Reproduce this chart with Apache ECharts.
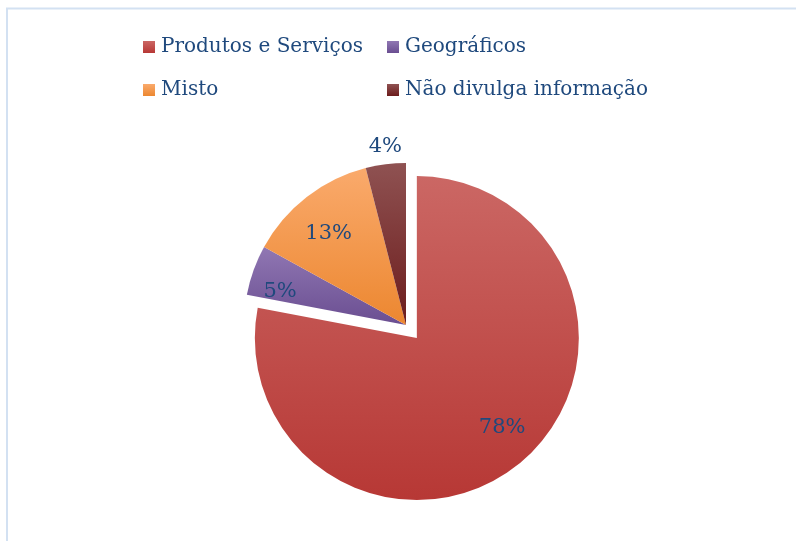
<!DOCTYPE html>
<html>
<head>
<meta charset="utf-8">
<script src="https://cdn.jsdelivr.net/npm/echarts@6/dist/echarts.min.js"></script>
<style>
html,body{margin:0;padding:0;background:#fff;}
#chart{width:796px;height:541px;}
</style>
</head>
<body>
<div id="chart"></div>
<script>
const categories = ['Produtos e Serviços', 'Geográficos', 'Misto', 'Não divulga informação'];
const values = [78, 5, 13, 4];
const labelTexts = ['78%', '5%', '13%', '4%'];
const topColors = ['#CB6764', '#9077B3', '#FAAA6C', '#8F5252'];
const bottomColors = ['#B73835', '#6A4E91', '#EC8730', '#6C1C1C'];

// label placement style (fraction of radius + small nudges)
const labelRadiusFrac = [0.74, 0.86, 0.75, 1.1];
const labelNudge = [[7, -5], [8, 15], [-1, 7], [2, 1]];

const chart = echarts.init(document.getElementById('chart'), null, {renderer: 'canvas'});
const CX = 406, CY = 325, R = 162, OFFSET = 17;
const FONT = 'DejaVu Serif';
const LABEL_COLOR = '#1F497D';

function grad(i) {
  return new echarts.graphic.LinearGradient(0, 0, 0, 1, [
    {offset: 0, color: topColors[i]},
    {offset: 1, color: bottomColors[i]}
  ]);
}

const mainData = categories.map((c, i) => ({
  name: c, value: values[i], selected: i === 0,
  itemStyle: {color: grad(i)}
}));

const series = [{
  type: 'pie',
  center: [CX, CY],
  radius: [0, R],
  startAngle: 90,
  clockwise: true,
  selectedMode: 'single',
  selectedOffset: OFFSET,
  avoidLabelOverlap: false,
  label: {show: false},
  labelLine: {show: false},
  emphasis: {disabled: true},
  animation: false,
  data: mainData
}];

categories.forEach((c, k) => {
  const rr = labelRadiusFrac[k] * R;
  series.push({
    type: 'pie',
    center: [CX, CY],
    radius: [rr - 1, rr + 1],
    startAngle: 90,
    clockwise: true,
    selectedMode: 'single',
    selectedOffset: OFFSET,
    silent: true,
    avoidLabelOverlap: false,
    labelLine: {show: false},
    labelLayout: {dx: labelNudge[k][0], dy: labelNudge[k][1]},
    emphasis: {disabled: true},
    animation: false,
    itemStyle: {color: 'rgba(0,0,0,0)'},
    data: categories.map((cc, i) => ({
      name: cc, value: values[i], selected: i === 0,
      itemStyle: {color: 'rgba(0,0,0,0)'},
      label: {
        show: i === k, position: 'inside', formatter: labelTexts[i],
        color: LABEL_COLOR, fontFamily: FONT, fontSize: 21
      }
    }))
  });
});

const legendCommon = {
  orient: 'vertical',
  itemWidth: 12, itemHeight: 12,
  itemGap: 21,
  icon: 'rect',
  selectedMode: false,
  textStyle: {color: LABEL_COLOR, fontFamily: FONT, fontSize: 20, lineHeight: 22, padding: [0,0,0,1]}
};

chart.setOption({
  backgroundColor: '#ffffff',
  animation: false,
  legend: [
    Object.assign({}, legendCommon, {left: 138, top: 31, data: [categories[0], categories[2]]}),
    Object.assign({}, legendCommon, {left: 382, top: 31, data: [categories[1], categories[3]]})
  ],
  graphic: [{
    type: 'polyline',
    shape: {points: [[7, 541], [7, 8.5], [796, 8.5]]},
    style: {stroke: '#D3E1F2', lineWidth: 2, fill: null},
    silent: true
  }],
  series: series
});
</script>
</body>
</html>
